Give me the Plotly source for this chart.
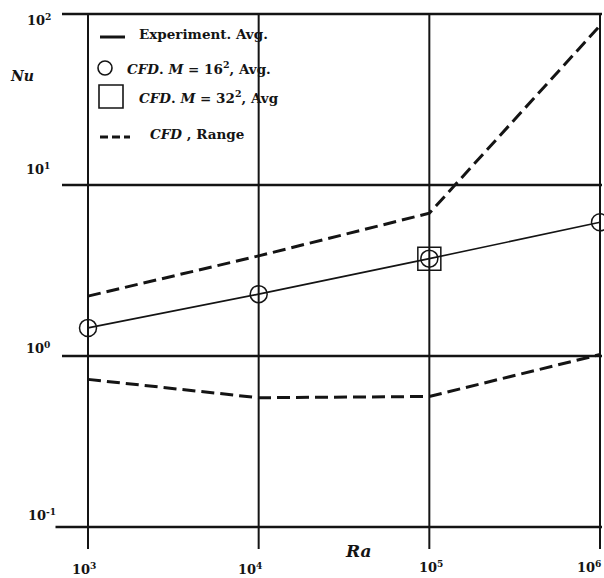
import plotly.graph_objects as go
import math

# ---- data ----
ra = [1e3, 1e4, 1e5, 1e6]
nu_exp = [1.46, 2.30, 3.71, 6.05]          # Experiment, Avg. (solid line)
nu_cfd16 = [1.46, 2.30, 3.71, 6.05]        # CFD, M = 16^2, Avg. (circles)
ra_cfd32 = [1e5]
nu_cfd32 = [3.71]                          # CFD, M = 32^2, Avg. (square)
nu_range_hi = [2.24, 3.85, 6.84, 85.5]     # CFD, Range (upper dashed)
nu_range_lo = [0.73, 0.57, 0.58, 1.02]     # CFD, Range (lower dashed)

x_ticks = [1e3, 1e4, 1e5, 1e6]
x_tick_text = ["10<sup>3</sup>", "10<sup>4</sup>", "10<sup>5</sup>", "10<sup>6</sup>"]
y_ticks = [1e2, 1e1, 1e0, 1e-1]
y_tick_text = ["10<sup>2</sup>", "10<sup>1</sup>", "10<sup>0</sup>", "10<sup>-1</sup>"]

W, H = 604, 578
ML, MR, MT, MB = 55, 2, 12, 29
PW, PH = W - ML - MR, H - MT - MB
XDEC = (600 - 88) / 3.0
YDEC = (527 - 14) / 3.0
xr = [3 - (88 - ML) / XDEC, 3 + (ML + PW - 88) / XDEC]
yr = [-1 - (H - MB - 527) / YDEC, 2 + (14 - MT) / YDEC]

FONT = "DejaVu Serif"
INK = "#141414"


def px(x):
    return (x - ML) / PW


def py(y):
    return (H - MB - y) / PH


fig = go.Figure()

fig.add_trace(go.Scatter(x=ra, y=nu_range_hi, mode="lines",
                         line=dict(color=INK, width=3, dash="13px,6px"),
                         hoverinfo="skip", showlegend=False))
fig.add_trace(go.Scatter(x=ra, y=nu_range_lo, mode="lines",
                         line=dict(color=INK, width=3, dash="13px,6px"),
                         hoverinfo="skip", showlegend=False))
fig.add_trace(go.Scatter(x=ra, y=nu_exp, mode="lines",
                         line=dict(color=INK, width=1.6),
                         hoverinfo="skip", showlegend=False))
fig.add_trace(go.Scatter(x=ra, y=nu_cfd16, mode="markers", cliponaxis=False,
                         marker=dict(symbol="circle-open", size=17, color=INK,
                                     line=dict(width=1.5, color=INK)),
                         hoverinfo="skip", showlegend=False))
fig.add_trace(go.Scatter(x=ra_cfd32, y=nu_cfd32, mode="markers", cliponaxis=False,
                         marker=dict(symbol="square-open", size=23, color=INK,
                                     line=dict(width=1.5, color=INK)),
                         hoverinfo="skip", showlegend=False))

shapes = []
# horizontal decade lines
for v in y_ticks:
    left_px = 55.5 if v == 1e-1 else 62
    shapes.append(dict(type="line", xref="x", yref="y", layer="below",
                       x0=10 ** (3 - (88 - left_px) / XDEC), x1=10 ** xr[1],
                       y0=v, y1=v, line=dict(color=INK, width=2.5)))
# vertical decade lines (extend below the bottom line)
for v in x_ticks:
    shapes.append(dict(type="line", xref="x", yref="y", layer="below",
                       x0=v, x1=v, y0=10 ** yr[0], y1=10 ** (2 + 1 / YDEC),
                       line=dict(color=INK, width=2)))

# legend symbols
shapes.append(dict(type="line", xref="paper", yref="paper",
                   x0=px(100), x1=px(125), y0=py(37), y1=py(37),
                   line=dict(color=INK, width=3)))
shapes.append(dict(type="circle", xref="paper", yref="paper",
                   x0=px(98), x1=px(112), y0=py(75), y1=py(61),
                   line=dict(color=INK, width=1.6)))
shapes.append(dict(type="rect", xref="paper", yref="paper",
                   x0=px(99), x1=px(123), y0=py(108), y1=py(85),
                   line=dict(color=INK, width=1.6)))
shapes.append(dict(type="line", xref="paper", yref="paper",
                   x0=px(100), x1=px(130), y0=py(137), y1=py(137),
                   line=dict(color=INK, width=3, dash="8px,4px")))

ann = []
legend_items = [
    (137, 34, "Experiment. Avg."),
    (125, 68, "<i>CFD</i>. <i>M</i> = 16<sup>2</sup>, Avg."),
    (137, 97, "<i>CFD</i>. <i>M</i> = 32<sup>2</sup>, Avg"),
    (148, 134, "<i>CFD</i> , Range"),
]
for x, y, t in legend_items:
    ann.append(dict(x=px(x), y=py(y), xref="paper", yref="paper", text=t,
                    showarrow=False, xanchor="left", yanchor="middle",
                    font=dict(family=FONT, size=13.5, color=INK, weight="bold")))

y_label_pos = [(53, 20), (52, 168), (52, 347), (58, 514)]
for (x, y), t in zip(y_label_pos, y_tick_text):
    ann.append(dict(x=px(x), y=py(y), xref="paper", yref="paper", text=t,
                    showarrow=False, xanchor="right", yanchor="middle",
                    font=dict(family=FONT, size=13, color=INK, weight="bold")))

x_label_pos = [(84, 568, "center"), (250, 568, "center"), (431, 566, "center"),
               (603, 566, "right")]
for (x, y, anc), t in zip(x_label_pos, x_tick_text):
    ann.append(dict(x=px(x), y=py(y), xref="paper", yref="paper", text=t,
                    showarrow=False, xanchor=anc, yanchor="middle",
                    font=dict(family=FONT, size=13, color=INK, weight="bold")))

ann.append(dict(x=px(22), y=py(76), xref="paper", yref="paper", text="<i>Nu</i>",
                showarrow=False, xanchor="center", yanchor="middle",
                font=dict(family=FONT, size=14, color=INK, weight="bold")))
ann.append(dict(x=px(358), y=py(551), xref="paper", yref="paper", text="<i>Ra</i>",
                showarrow=False, xanchor="center", yanchor="middle",
                font=dict(family=FONT, size=17, color=INK, weight="bold")))

fig.update_layout(
    width=W, height=H,
    margin=dict(l=ML, r=MR, t=MT, b=MB, pad=0),
    paper_bgcolor="white", plot_bgcolor="white",
    showlegend=False,
    shapes=shapes, annotations=ann,
    xaxis=dict(type="log", range=xr, showgrid=False, zeroline=False,
               showline=False, showticklabels=False, ticks=""),
    yaxis=dict(type="log", range=yr, showgrid=False, zeroline=False,
               showline=False, showticklabels=False, ticks=""),
)

fig.write_html("out.html")
